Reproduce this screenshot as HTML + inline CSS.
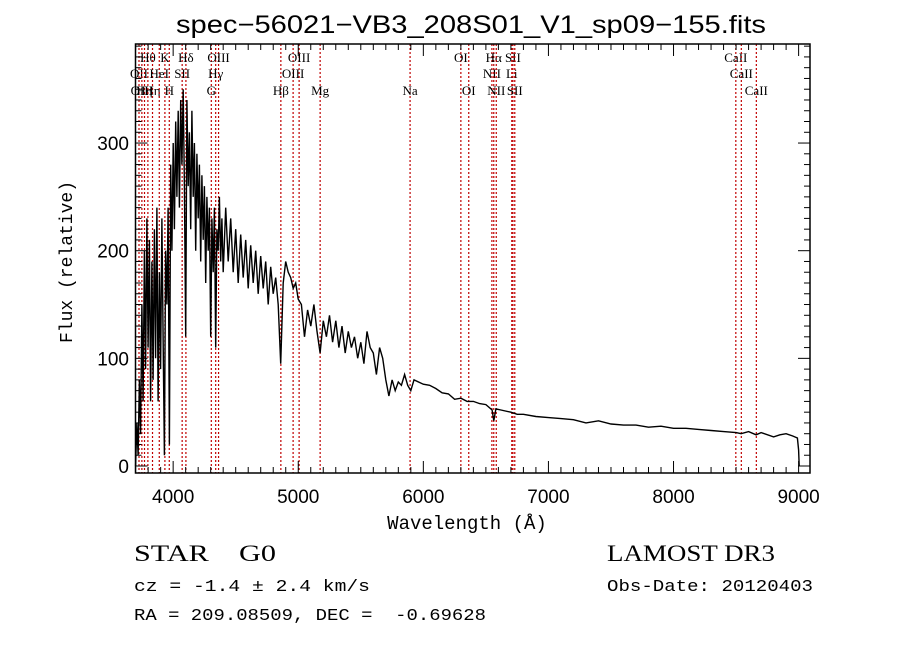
<!DOCTYPE html>
<html><head><meta charset="utf-8"><style>
body{margin:0;background:#fff;width:900px;height:649px;overflow:hidden}
svg{display:block}
text{fill:#000;white-space:pre}
.sans{font-family:"Liberation Sans",sans-serif}
.mono{font-family:"Liberation Mono",monospace}
.serif{font-family:"Liberation Serif",serif}
.ll{font-family:"Liberation Serif",serif;font-size:13px}
</style></head><body>
<svg id="c" width="900" height="649">
<text class="sans" x="176" y="33" font-size="25" textLength="590" lengthAdjust="spacingAndGlyphs">spec−56021−VB3_208S01_V1_sp09−155.fits</text>
<text class="mono" x="467" y="529" text-anchor="middle" font-size="19">Wavelength (Å)</text>
<text class="mono" transform="translate(72,262) rotate(-90)" text-anchor="middle" font-size="18">Flux (relative)</text>
<text class="serif" x="134" y="561" font-size="23" textLength="142" lengthAdjust="spacingAndGlyphs">STAR    G0</text>
<text class="mono" x="134" y="591" font-size="17" textLength="236" lengthAdjust="spacingAndGlyphs">cz = -1.4 ± 2.4 km/s</text>
<text class="mono" x="134" y="620" font-size="17" textLength="352" lengthAdjust="spacingAndGlyphs">RA = 209.08509, DEC =  -0.69628</text>
<text class="serif" x="607" y="561" font-size="23" textLength="168" lengthAdjust="spacingAndGlyphs">LAMOST DR3</text>
<text class="mono" x="607" y="591" font-size="17" textLength="206" lengthAdjust="spacingAndGlyphs">Obs-Date: 20120403</text>
</svg>
<script>
const xTicks=[4000,5000,6000,7000,8000,9000];
const yTicks=[0,100,200,300];
const lineWaves=[3727,3750,3771,3798,3835,3889,3934,3969,4072,4102,4305,4340,4363,4861,4959,5007,5175,5894,6300,6363,6548,6563,6583,6707,6716,6731,8498,8542,8662];
const lineLabels=["OII","OIII","Hη","Hθ","Hη","HeI","K","H","SII","Hδ","G","Hγ","OIII","Hβ","OIII","OIII","Mg","Na","OI","OI","NII","Hα","NII","Li","SII","SII","CaII","CaII","CaII"];
const lineRows=[2,3,3,1,3,2,1,3,2,1,3,2,1,3,2,1,3,3,1,3,2,1,3,2,1,3,1,2,3];
const waves=[3700,3710,3720,3730,3740,3750,3760,3770,3780,3790,3800,3810,3820,3830,3840,3850,3860,3870,3880,3890,3900,3910,3920,3930,3940,3950,3960,3970,3980,3990,4000,4010,4020,4030,4040,4050,4060,4070,4080,4090,4100,4110,4120,4130,4140,4150,4160,4170,4180,4190,4200,4210,4220,4230,4240,4250,4260,4270,4280,4290,4300,4310,4320,4330,4340,4350,4360,4370,4380,4390,4400,4420,4440,4460,4480,4500,4520,4540,4560,4580,4600,4620,4640,4660,4680,4700,4720,4740,4760,4780,4800,4820,4840,4860,4880,4900,4920,4940,4960,4980,5000,5025,5050,5075,5100,5125,5150,5175,5200,5225,5250,5275,5300,5325,5350,5375,5400,5425,5450,5475,5500,5525,5550,5575,5600,5625,5650,5675,5700,5725,5750,5775,5800,5825,5850,5875,5900,5925,6000,6050,6100,6150,6200,6250,6300,6350,6400,6450,6500,6550,6563,6580,6620,6700,6750,6800,6900,7000,7100,7200,7300,7400,7500,7600,7700,7800,7900,8000,8100,8200,8300,8400,8500,8540,8600,8660,8700,8800,8850,8900,8950,8990,9000,9005];
const flux=[0,40,10,80,30,150,60,200,90,230,110,210,60,190,80,220,100,240,60,180,90,230,120,10,200,150,240,20,280,200,300,220,320,250,330,240,340,280,350,260,120,340,260,310,220,330,250,300,200,290,230,280,190,270,210,260,170,250,200,240,120,230,180,240,110,220,200,250,190,230,180,240,190,230,180,220,170,215,175,210,165,205,170,200,160,195,165,190,150,185,160,175,150,95,170,190,180,175,165,170,155,150,120,145,130,150,125,105,135,120,140,115,135,110,130,105,125,110,120,100,115,95,125,110,105,85,110,100,80,65,80,70,78,75,85,75,70,80,76,75,72,68,67,62,63,60,60,58,57,52,42,53,52,50,48,48,46,45,44,43,40,42,39,38,38,36,37,35,35,34,33,32,31,30,32,29,31,27,29,30,28,26,15,0];
const L=135.5,R=810,T=44,B=473,X0=3699,X1=9091,Y0=-6.5,Y1=392;
const sx=w=>L+(w-X0)/(X1-X0)*(R-L);
const sy=f=>B-(f-Y0)/(Y1-Y0)*(B-T);
const NS="http://www.w3.org/2000/svg",svg=document.getElementById('c');
function mk(t,a){const e=document.createElementNS(NS,t);for(const k in a)e.setAttribute(k,a[k]);svg.appendChild(e);return e;}
lineWaves.forEach((w,i)=>{
 const x=sx(w);
 const l=mk('line',{x1:x,x2:x,y1:T,y2:B,stroke:'#c00000','stroke-width':1.2,'stroke-dasharray':'2,2'});
 
 
 const t=mk('text',{x:x,y:[0,62,78,95][lineRows[i]],'text-anchor':'middle',class:'ll'});
 t.textContent=lineLabels[i];
 
 
});
const pts=waves.map((w,i)=>sx(w).toFixed(1)+','+sy(flux[i]).toFixed(1)).join(' ');
const pl=mk('polyline',{points:pts,fill:'none',stroke:'#000','stroke-width':1.4});


const fr=mk('rect',{x:L,y:T,width:R-L,height:B-T,fill:'none',stroke:'#000','stroke-width':1.5});


for(let w=3700;w<=9000;w+=100){const x=sx(w),len=(w%1000===0)?12:6;
 mk('line',{x1:x,x2:x,y1:B,y2:B-len,stroke:'#000'});mk('line',{x1:x,x2:x,y1:T,y2:T+len,stroke:'#000'});}
for(let f=0;f<=390;f+=10){const y=sy(f),len=(f%100===0)?12:6;
 mk('line',{x1:L,x2:L+len,y1:y,y2:y,stroke:'#000'});mk('line',{x1:R,x2:R-len,y1:y,y2:y,stroke:'#000'});}
xTicks.forEach(v=>{const t=mk('text',{x:sx(v),y:503,'text-anchor':'middle','font-size':19,class:'sans'});t.textContent=v;
 
 });
yTicks.forEach(v=>{const t=mk('text',{x:129,y:sy(v)+7,'text-anchor':'end','font-size':19,class:'sans'});t.textContent=v;
 
 });
</script>
</body></html>
